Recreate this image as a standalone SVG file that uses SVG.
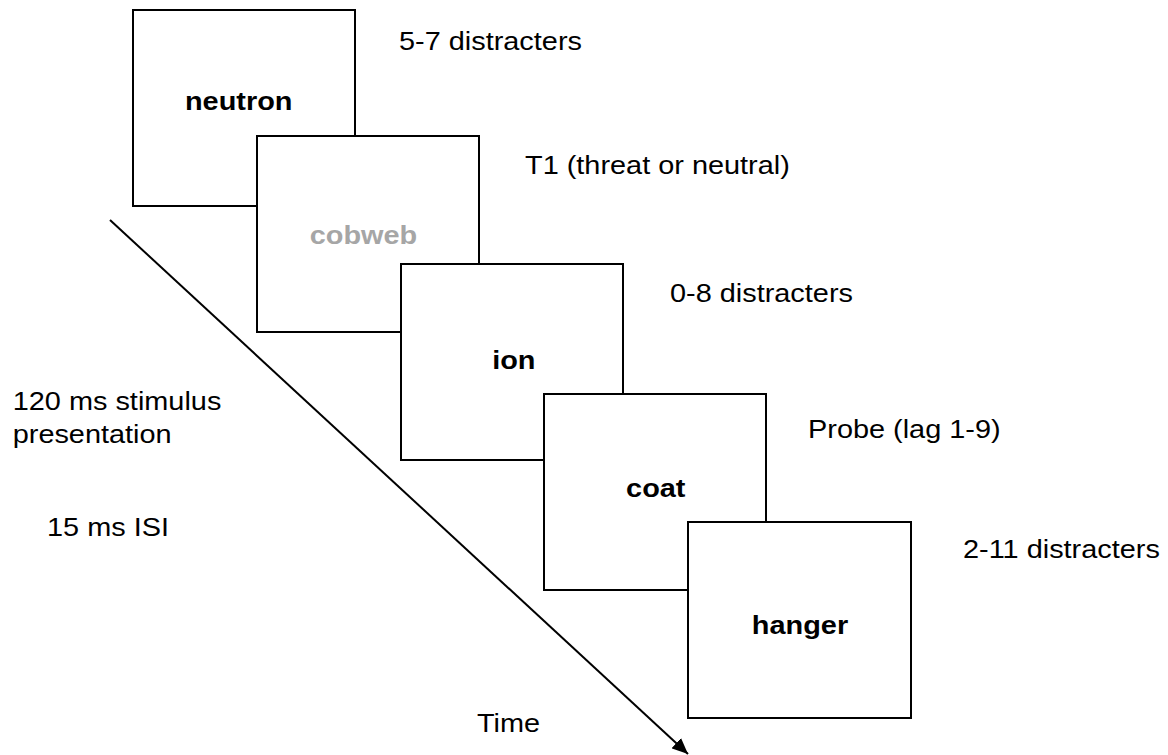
<svg xmlns="http://www.w3.org/2000/svg" width="1168" height="755" viewBox="0 0 1168 755">
  <defs>
    <style>
      .frame { fill: #ffffff; stroke: #000000; stroke-width: 2; }
      .word { font-family: "Liberation Sans", Arial, sans-serif; font-size: 25.5px; font-weight: bold; fill: #000000; text-anchor: middle; }
      .word.t1 { fill: #a6a6a6; }
      .note { font-family: "Liberation Sans", Arial, sans-serif; font-size: 25.5px; fill: #000000; }
      .timeline { stroke: #000000; stroke-width: 2; fill: none; }
    </style>
    <marker id="arrowhead" viewBox="0 0 16 14" refX="16" refY="7" markerWidth="16" markerHeight="14" markerUnits="userSpaceOnUse" orient="auto">
      <path d="M0,0 L16,7 L0,14 z" fill="#000000"/>
    </marker>
  </defs>

  <rect width="1168" height="755" fill="#ffffff"/>

  <!-- time axis -->
  <g id="connectors">
    <line class="timeline" x1="110" y1="220" x2="688" y2="754" marker-end="url(#arrowhead)"/>
  </g>

  <!-- stimulus frames, later frames drawn on top -->
  <g id="frame-neutron">
    <rect class="frame" x="133" y="10" width="222" height="196"/>
    <text class="word" transform="translate(238.7,110) scale(1.133,1)">neutron</text>
  </g>
  <g id="frame-cobweb">
    <rect class="frame" x="257" y="136" width="222" height="196"/>
    <text class="word t1" transform="translate(363.5,244) scale(1.133,1)">cobweb</text>
  </g>
  <g id="frame-ion">
    <rect class="frame" x="401" y="264" width="222" height="196"/>
    <text class="word" transform="translate(513.8,369) scale(1.133,1)">ion</text>
  </g>
  <g id="frame-coat">
    <rect class="frame" x="544" y="394" width="222" height="196"/>
    <text class="word" transform="translate(655.8,497) scale(1.133,1)">coat</text>
  </g>
  <g id="frame-hanger">
    <rect class="frame" x="688" y="522" width="223" height="196"/>
    <text class="word" transform="translate(800,634) scale(1.133,1)">hanger</text>
  </g>

  <!-- annotations -->
  <g id="annotations">
    <text class="note" transform="translate(399,50) scale(1.133,1)">5-7 distracters</text>
    <text class="note" transform="translate(525,174) scale(1.133,1)">T1 (threat or neutral)</text>
    <text class="note" transform="translate(670,302) scale(1.133,1)">0-8 distracters</text>
    <text class="note" transform="translate(808,438) scale(1.133,1)">Probe (lag 1-9)</text>
    <text class="note" transform="translate(963,558) scale(1.133,1)">2-11 distracters</text>
    <text class="note" transform="translate(12.7,410) scale(1.133,1)">120 ms stimulus</text>
    <text class="note" transform="translate(12.7,443) scale(1.133,1)">presentation</text>
    <text class="note" transform="translate(47,536) scale(1.133,1)">15 ms ISI</text>
    <text class="note" transform="translate(477,732) scale(1.133,1)">Time</text>
  </g>
</svg>
